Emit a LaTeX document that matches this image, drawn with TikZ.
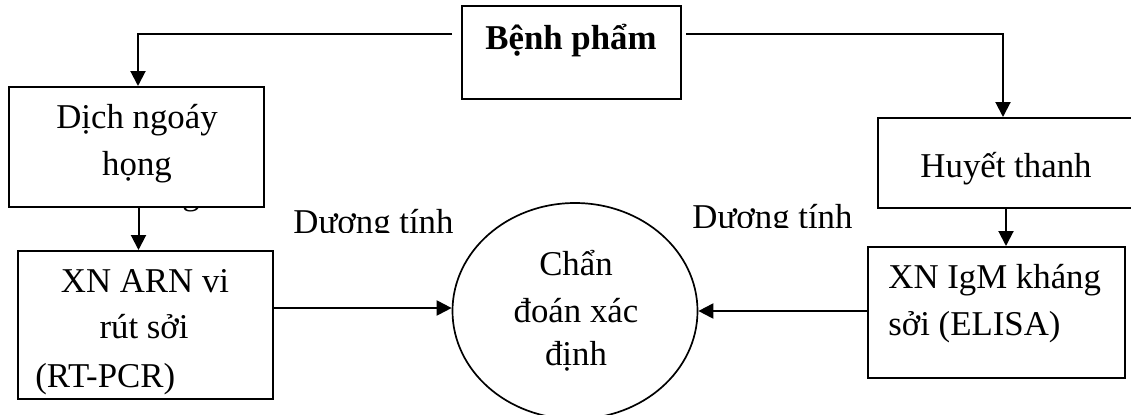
\documentclass[tikz,border=0pt]{standalone}
\usepackage{fontspec}
\setmainfont{Liberation Serif}
\usetikzlibrary{arrows.meta,fit,shapes.geometric}
\begin{document}
\begin{tikzpicture}[x=0.5pt,y=-0.5pt,
  box/.style={draw,line width=1pt,inner sep=0pt},
  txt/.style={anchor=base,inner sep=0pt,font=\fontsize{17.4}{23}\selectfont},
  arr/.style={line width=1pt,-{Triangle[length=7.5pt,width=7.5pt]}}]
\clip (0,0) rectangle (1131,414);
\fill[white] (0,0) rectangle (1131,414);

% fragment of a descender peeking below the swab box
\begin{scope}
  \clip (170,208.5) rectangle (215,215);
  \node[txt] (gfrag) at (191,204) {g};
\end{scope}

% boxes
\node[box,fit={(462,6) (681,99)}] (bp) {};
\node[box,fit={(9,87) (264,207)}] (dn) {};
\node[box,fit={(878,118) (1134,208)}] (ht) {};
\node[box,fit={(18,251) (273,399)}] (arn) {};
\node[box,fit={(868,247) (1125,378)}] (igm) {};
\node[draw,ellipse,line width=0.85pt,inner sep=0pt,
      minimum width=122.5pt,minimum height=108pt] (cd) at (575,311) {};

% texts
\node[txt,font=\fontsize{17.4}{23}\selectfont\bfseries] (tbp) at (571,49) {Bệnh phẩm};
\node[txt] (tdn1) at (137,128) {Dịch ngoáy};
\node[txt] (tdn2) at (137,175) {họng};
\node[txt] (tht) at (1006,177) {Huyết thanh};
\node[txt] (tarn1) at (145,292) {XN ARN vi};
\node[txt] (tarn2) at (144,338) {rút sởi};
\node[txt,anchor=base west] (tarn3) at (35,387) {(RT-PCR)};
\node[txt,anchor=base west] (tigm1) at (888,288) {XN IgM kháng};
\node[txt,anchor=base west] (tigm2) at (888,335) {sởi (ELISA)};
\node[txt] (tcd1) at (576,275) {Chẩn};
\node[txt] (tcd2) at (576,322) {đoán xác};
\node[txt] (tcd3) at (576,365) {định};

% labels cut off at their lower edge
\begin{scope}
  \clip (280,190) rectangle (470,232.7);
  \node[txt] (dt1) at (373.5,233) {Dương tính};
\end{scope}
\begin{scope}
  \clip (680,185) rectangle (870,227);
  \node[txt] (dt2) at (772.5,228.5) {Dương tính};
\end{scope}

% connectors
\coordinate (toprow) at (0,34);
\coordinate (midrow) at (0,308);
\coordinate (rightrow) at (0,311);
\draw[arr] ([xshift=-4.5pt]bp.west |- toprow) -| ([xshift=0.75pt]dn.north);
\draw[arr] ([xshift=2pt]bp.east |- toprow) -| ([xshift=-1.5pt]ht.north);
\draw[arr] ([xshift=1pt]dn.south) -- ([xshift=1pt]dn.south |- arn.north);
\draw[arr] (ht.south) -- (ht.south |- igm.north);
\draw[arr] (arn.east |- midrow) -- (cd.west |- midrow);
\draw[arr] (igm.west |- rightrow) -- (cd.east |- rightrow);
\end{tikzpicture}
\end{document}
